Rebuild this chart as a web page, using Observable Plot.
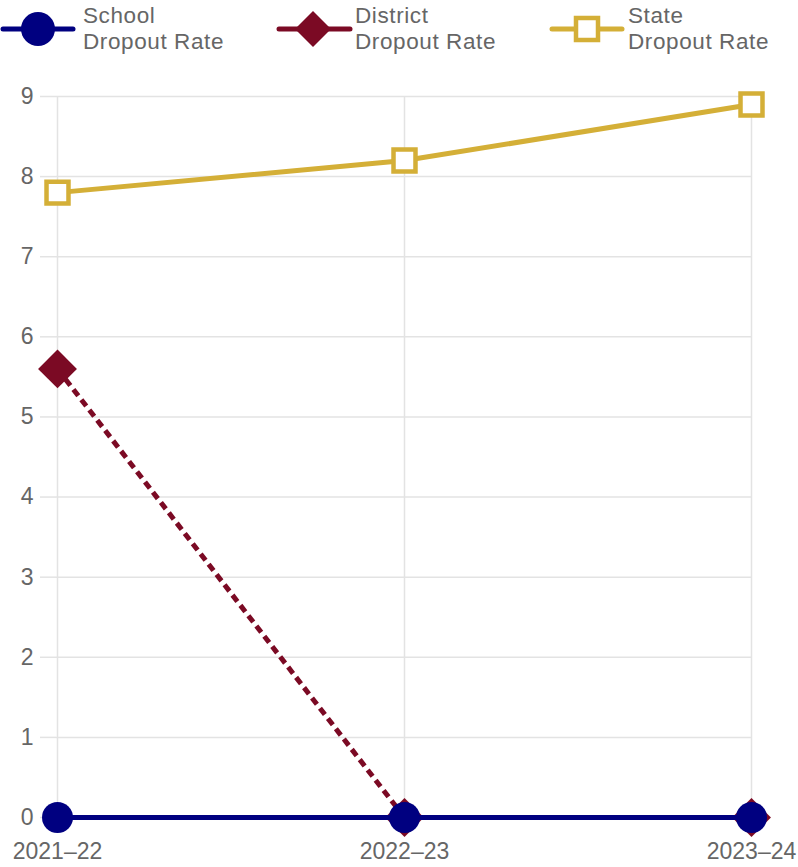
<!DOCTYPE html>
<html>
<head>
<meta charset="utf-8">
<script src="https://cdn.jsdelivr.net/npm/d3@7"></script>
<script src="https://cdn.jsdelivr.net/npm/@observablehq/plot@0.6"></script>
<style>
  html, body { margin: 0; padding: 0; background: #fff; }
  #wrap { position: relative; width: 798px; height: 867px; font-family: "Liberation Sans", Arial, sans-serif; }
  #legend { position: absolute; left: 0; top: 0; width: 798px; height: 60px; }
  .lg-text { position: absolute; font-size: 22.5px; letter-spacing: 0.6px; line-height: 26px; height: 26px; color: #666; white-space: nowrap; }
  #chart { position: absolute; left: 0; top: 0; }
</style>
</head>
<body>
<div id="wrap">
  <div id="chart"></div>
  <div id="legend"></div>
</div>
<script>
// School years on the x axis
const years = ["2021–22", "2022–23", "2023–24"];

// Dropout rates (%) per series
const schoolRates = [0, 0, 0];
const districtRates = [5.6, 0, 0];
const stateRates = [7.8, 8.2, 8.9];

// Y axis ticks
const yTicks = [0, 1, 2, 3, 4, 5, 6, 7, 8, 9];

// Series names and colours
const seriesNames = ["School", "District", "State"];
const seriesColors = ["#000080", "#7b0a24", "#d4af37"];

const rows = (rates) => years.map((year, i) => ({year, rate: rates[i]}));
const school = rows(schoolRates);
const district = rows(districtRates);
const state = rows(stateRates);

const grid = "#e3e3e3";

const chart = Plot.plot({
  width: 798,
  height: 867,
  marginTop: 96,
  marginBottom: 50,
  marginLeft: 56,
  marginRight: 47,
  style: {fontFamily: "'Liberation Sans', Arial, sans-serif", fontSize: "23px", color: "#666", background: "transparent"},
  x: {type: "point", domain: years, padding: 0},
  y: {domain: [0, 9]},
  marks: [
    Plot.gridY(yTicks, {stroke: grid, strokeOpacity: 1, strokeWidth: 1.5}),
    Plot.gridX(years, {stroke: grid, strokeOpacity: 1, strokeWidth: 1.5}),
    Plot.axisY(yTicks, {tickSize: 16, tickPadding: 7, stroke: grid, strokeWidth: 1.5, fill: "#666", label: null, tickFormat: d3.format("d")}),
    Plot.axisX(years, {tickSize: 0, tickPadding: 25, fill: "#666", label: null}),
    // State
    Plot.line(state, {x: "year", y: "rate", stroke: seriesColors[2], strokeWidth: 5}),
    Plot.dot(state, {x: "year", y: "rate", symbol: "square", r: 12.4, fill: "white", stroke: seriesColors[2], strokeWidth: 4.5}),
    // District (dashed)
    Plot.line(district, {x: "year", y: "rate", stroke: seriesColors[1], strokeWidth: 5, strokeDasharray: "8,5", strokeLinecap: "butt"}),
    Plot.dot(district, {x: "year", y: "rate", symbol: "diamond2", r: 17.5, fill: seriesColors[1], stroke: "none"}),
    // School
    Plot.line(school, {x: "year", y: "rate", stroke: seriesColors[0], strokeWidth: 5}),
    Plot.dot(school, {x: "year", y: "rate", r: 15.5, fill: seriesColors[0], stroke: "none"})
  ]
});
document.getElementById("chart").appendChild(chart);
// the district line is the second line mark; dash its path explicitly
const linePaths = chart.querySelectorAll('g[aria-label="line"] path');
if (linePaths.length > 1) {
  linePaths[1].setAttribute("stroke-dasharray", "8,5");
  linePaths[1].style.strokeDasharray = "8px,5px";
}

// Legend: line + symbol swatch, then two-line label
const legendItems = [
  {name: seriesNames[0], color: seriesColors[0], symbol: "circle", lineX: [3, 73], cx: 38, textX: 83},
  {name: seriesNames[1], color: seriesColors[1], symbol: "diamond", lineX: [279, 350], cx: 313, textX: 355},
  {name: seriesNames[2], color: seriesColors[2], symbol: "square", lineX: [552, 622], cx: 587, textX: 628}
];
const legend = d3.select("#legend");
const lsvg = legend.append("svg").attr("width", 798).attr("height", 60).style("position", "absolute").style("left", 0).style("top", 0);
for (const item of legendItems) {
  const cy = 29;
  lsvg.append("line")
    .attr("x1", item.lineX[0]).attr("x2", item.lineX[1]).attr("y1", cy).attr("y2", cy)
    .attr("stroke", item.color).attr("stroke-width", 5).attr("stroke-linecap", "round");
  if (item.symbol === "circle") {
    lsvg.append("circle").attr("cx", item.cx).attr("cy", cy).attr("r", 17).attr("fill", item.color);
  } else if (item.symbol === "diamond") {
    const h = 18;
    lsvg.append("path")
      .attr("d", `M${item.cx},${cy - h}L${item.cx + h},${cy}L${item.cx},${cy + h}L${item.cx - h},${cy}Z`)
      .attr("fill", item.color);
  } else {
    const s = 22;
    lsvg.append("rect").attr("x", item.cx - s / 2).attr("y", cy - s / 2).attr("width", s).attr("height", s)
      .attr("fill", "white").attr("stroke", item.color).attr("stroke-width", 4.5);
  }
  legend.append("div").attr("class", "lg-text").style("left", item.textX + "px").style("top", "3px")
    .text(item.name);
  legend.append("div").attr("class", "lg-text").style("left", item.textX + "px").style("top", "29px")
    .text("Dropout Rate");
}
</script>
</body>
</html>
